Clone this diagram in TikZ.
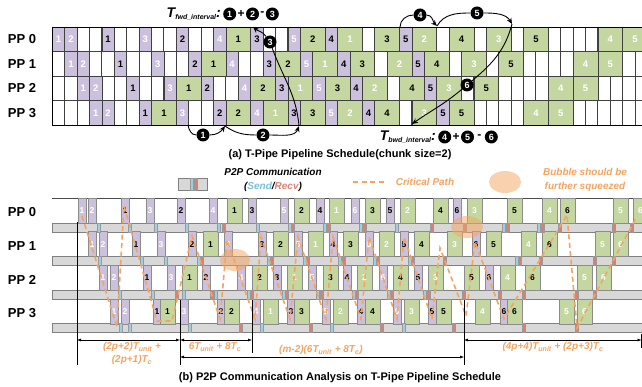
\documentclass[tikz,border=0pt]{standalone}
\usepackage{fontspec}
\setmainfont{Liberation Sans}
\usetikzlibrary{positioning,arrows.meta}

\definecolor{purp}{RGB}{204,193,221}
\definecolor{gree}{RGB}{196,215,161}
\definecolor{barg}{RGB}{216,216,216}
\definecolor{sendc}{RGB}{158,208,228}
\definecolor{recvc}{RGB}{214,128,118}
\definecolor{sendt}{RGB}{120,192,218}
\definecolor{recvt}{RGB}{222,128,118}
\definecolor{crit}{RGB}{244,164,96}

\tikzset{
  cellw/.style={draw=black!75, line width=0.6pt, fill=white},
  cellp/.style={draw=black!75, line width=0.6pt, fill=purp, inner sep=0pt, anchor=north west,
    minimum width=12.4pt, minimum height=24.5pt, font=\fontsize{9.5}{9.5}\selectfont\bfseries},
  cellg/.style={cellp, fill=gree, minimum width=24.8pt},
  blkp/.style={draw=black!45, line width=0.5pt, fill=purp, inner sep=0pt, anchor=north west,
    minimum width=7.5pt, minimum height=25pt, font=\fontsize{8.5}{8.5}\selectfont\bfseries},
  blkg/.style={blkp, fill=gree, minimum width=14.5pt},
  numL/.style={text=white},
  numD/.style={text=black},
  ppl/.style={font=\fontsize{13}{13}\selectfont\bfseries},
  circ/.style={circle, fill=black, text=white, inner sep=0pt, minimum size=13pt,
    font=\fontsize{9}{9}\selectfont\bfseries},
  opr/.style={inner sep=1pt, font=\fontsize{12}{12}\selectfont\bfseries},
  intl/.style={inner sep=1pt, font=\fontsize{14}{14}\selectfont\bfseries\itshape},
  arr/.style={-{Stealth[length=6pt,width=5pt]}, line width=0.9pt},
  capt/.style={font=\fontsize{11}{11}\selectfont\bfseries},
  legt/.style={align=center, font=\fontsize{10}{14}\selectfont\bfseries\itshape},
  critp/.style={crit, line width=1.6pt, dash pattern=on 5pt off 3.5pt},
  bubble/.style={fill=crit, opacity=0.5},
  bar/.style={fill=barg, draw=black!50, line width=0.5pt},
  sendm/.style={fill=sendc, draw=black!40, line width=0.3pt},
  recvm/.style={fill=recvc, draw=black!40, line width=0.3pt},
  dim/.style={{Latex[length=4pt,width=3pt]}-{Latex[length=4pt,width=3pt]}, line width=0.5pt},
  dimt/.style={text=crit, font=\fontsize{10}{12}\selectfont\bfseries\itshape},
}

% one row of (a): start unit / kind / number / shade
\newcommand\arow[2]{%
  \foreach \s/\ty/\nm/\sh in {#2}
    \node[cell\ty,num\sh] (a#1-\s) at ({52+\s*12.4},{27+#1*24.5}) {\nm};}
% one row of (b): x / kind / number / shade
\newcommand\brow[2]{%
  \foreach \xs/\ty/\nm/\sh in {#2}
    \node[blk\ty,num\sh] (b#1-\xs) at (\xs,{198+#1*33.5}) {\nm};}
% send/recv marks on the bar of a row
\newcommand\bmarks[3]{%
  \foreach \xs in {#3}
    \draw[#2] (\xs,{223+#1*33.5}) rectangle ++(3,9);}

\begin{document}
\begin{tikzpicture}[x=1pt,y=-1pt]
\useasboundingbox (0,0) rectangle (642,387);
\clip (0,0) rectangle (642,387);

%%% (a) schedule
\foreach \r in {0,...,3}
  \foreach \c in {0,...,47}
    \draw[cellw] ({52+\c*12.4},{27+\r*24.5}) rectangle ++(12.4,24.5);
\arow{0}{0/p/1/L,1/p/2/L,4/p/1/D,7/p/3/L,10/p/2/D,13/p/4/L,14/g/1/D,16/p/3/D,19/p/5/L,20/g/2/D,22/p/4/D,23/g/1/L,26/g/3/D,28/p/5/D,29/g/2/L,32/g/4/D,35/g/3/L,38/g/5/D,44/g/4/L,46/g/5/L}
\arow{1}{1/p/1/L,2/p/2/L,5/p/1/D,8/p/3/L,11/p/2/D,12/g/1/D,14/p/4/L,17/p/3/D,18/g/2/D,20/p/5/L,21/g/1/L,23/p/4/D,24/g/3/D,27/g/2/L,29/p/5/D,30/g/4/D,33/g/3/L,36/g/5/D,42/g/4/L,44/g/5/L}
\arow{2}{2/p/1/L,3/p/2/L,6/p/1/D,9/p/3/L,10/g/1/D,12/p/2/D,15/p/4/L,16/g/2/D,18/p/3/D,19/g/1/L,21/p/5/L,22/g/3/D,24/p/4/D,25/g/2/L,28/g/4/D,30/p/5/D,31/g/3/L,34/g/5/D,40/g/4/L,42/g/5/L}
\arow{3}{3/p/1/L,4/p/2/L,7/p/1/D,8/g/1/D,10/p/3/L,13/p/2/D,14/g/2/D,16/p/4/L,17/g/1/L,19/p/3/D,20/g/3/D,22/p/5/L,23/g/2/L,25/p/4/D,26/g/4/D,29/g/3/L,31/p/5/D,32/g/5/D,38/g/4/L,40/g/5/L}
\draw[line width=0.9pt] (52,27) rectangle (648,125);
\foreach \r in {0,...,3}
  \node[ppl] (pa\r) at (22,{39.25+\r*24.5}) {PP \r};

% forward interval
\coordinate (s1) at (188,125);
\coordinate (s2) at (225,126);
\coordinate (s3) at (299,126);
\coordinate (s4) at (253,27);
\node[circ] (n1) at (203,135) {1};
\node[circ] (n2) at (263,135) {2};
\node[circ] (n3) at (270,42) {3};
\draw[arr] (s1) to[out=-80,in=180] (n1) to[out=0,in=-125] (s2);
\draw[arr] (s2) to[out=-35,in=180] (n2) to[out=0,in=-110] (s3);
\draw[arr] (s3) to[out=95,in=-70] (n3) to[out=125,in=-40] (s4);
\node[intl, anchor=east] (tfwd) at (222,14) {T\raisebox{-2.5pt}{\fontsize{7}{7}\selectfont fwd\_interval}:};
\node[circ, right=1pt of tfwd] (tf1) {1};
\node[opr, right=0pt of tf1] (tfp) {+};
\node[circ, right=0pt of tfp] (tf2) {2};
\node[opr, right=0pt of tf2] (tfm) {-};
\node[circ, right=0pt of tfm] (tf3) {3};

% backward interval
\coordinate (r1) at (400,27);
\coordinate (r2) at (437,26);
\coordinate (r3) at (512,24);
\coordinate (r4) at (412,124);
\node[circ] (n4) at (420,15) {4};
\node[circ] (n5) at (477,13) {5};
\node[circ] (n6) at (467,85) {6};
\draw[arr] (r1) to[out=90,in=180] (n4) to[out=0,in=135] (r2);
\draw[arr] (r2) to[out=60,in=180] (n5) to[out=0,in=120] (r3);
\draw[arr] (r3) to[out=-105,in=40] (n6) to[out=-140,in=35] (r4);
\node[intl, anchor=east] (tbwd) at (437,137) {T\raisebox{-2.5pt}{\fontsize{7}{7}\selectfont bwd\_interval}:};
\node[circ, right=1pt of tbwd] (tb4) {4};
\node[opr, right=0pt of tb4] (tbp) {+};
\node[circ, right=0pt of tbp] (tb5) {5};
\node[opr, right=0pt of tb5, inner sep=3pt] (tbm) {-};
\node[circ, right=0pt of tbm] (tb6) {6};

\node[capt] (capa) at (340,155) {(a) T-Pipe Pipeline Schedule(chunk size=2)};

%%% legend
\draw[bar] (178,178) rectangle (207,190);
\draw[sendm] (190,178) rectangle ++(3,12);
\draw[recvm] (194,178) rectangle ++(3,12);
\node[legt] (lgc) at (273,180) {P2P Communication\\(\textcolor{sendt}{Send}/\textcolor{recvt}{Recv})};
\coordinate (lgl) at (353,182);
\coordinate (lgr) at (384,182);
\draw[critp] (lgl) -- (lgr);
\node[legt, text=crit] (lgcp) at (425,182) {Critical Path};
\fill[bubble] (505,182) ellipse (16 and 11);
\node[legt, text=crit] (lgbb) at (585,180) {Bubble should be\\further squeezed};

%%% (b) p2p analysis
\draw[black!70, line width=0.6pt] (52,198) -- (643,198);
\foreach \r in {0,...,3} {
  \draw[bar] (52,{223+\r*33.5}) rectangle (644,{232+\r*33.5});
  \node[ppl] (pb\r) at (22,{212.5+\r*33.5}) {PP \r};
}
\brow{0}{78/p/1/L,88/p/2/L,121/p/1/D,146/p/3/L,177/p/2/D,209/p/4/L,227/g/1/D,248/p/3/D,280/p/5/L,294/g/2/D,316/p/4/D,329/g/1/L,351/p/6/L,365/g/3/D,386/p/5/D,400/g/2/L,433/g/4/D,453/p/6/D,467/g/3/L,507/g/5/D,542/g/4/L,560/g/6/D,613/g/5/L,633/g/6/L}
\brow{1}{88/p/1/L,99/p/2/L,132/p/1/D,157/p/3/L,188/p/2/D,203/g/1/D,224/p/4/L,258/p/3/D,273/g/2/D,294/p/5/L,308/g/1/L,329/p/4/D,343/g/3/D,365/p/6/L,379/g/2/L,400/p/5/D,414/g/4/D,447/g/3/L,472/p/6/D,486/g/5/D,521/g/4/L,542/g/6/D,595/g/5/L,613/g/6/L}
\brow{2}{99/p/1/L,110/p/2/L,143/p/1/D,167/p/3/L,182/g/1/D,202/p/2/D,237/p/4/L,252/g/2/D,273/p/3/D,287/g/1/L,308/p/5/L,323/g/3/D,343/p/4/D,357/g/2/L,379/p/6/L,393/g/4/D,414/p/5/D,428/g/3/L,464/g/5/D,485/p/6/D,500/g/4/L,525/g/6/D,577/g/5/L,596/g/6/L}
\brow{3}{110/p/1/L,121/p/2/L,153/p/1/D,160/g/1/D,180/p/3/L,217/p/2/D,224/g/2/D,252/p/4/L,263/g/1/L,287/p/3/D,294/g/3/D,322/p/5/L,333/g/2/L,357/p/4/D,365/g/4/D,393/p/6/L,404/g/3/L,428/p/5/D,436/g/5/D,475/g/4/L,500/p/6/D,507/g/6/D,559/g/5/L,577/g/6/L}

\bmarks{0}{sendm}{97,128,154,185,217,256,288,323,359,395,502,537}
\bmarks{0}{recvm}{222,291,327,363,430,463,506,541,558,612,630}
\bmarks{1}{sendm}{98,140,164,197,267,303,338,373,408,515}
\bmarks{1}{recvm}{200,270,306,342,376,411,443,518,539,593,612}
\bmarks{2}{sendm}{118,151,182,214,247,282,316,352,387,423}
\bmarks{2}{recvm}{175,210,250,285,320,355,390,427,462,498,522,575,593}
\bmarks{3}{sendm}{119,128,188,260,330,402}
\bmarks{3}{recvm}{239,309,380,452,522,575}

% bubbles
\fill[bubble] (235,260) ellipse (15 and 11);
\fill[bubble] (467,227) ellipse (16 and 11);

% critical path
\draw[critp] (82,216) -- (117,327) -- (124,206) -- (157,321) -- (172,321) -- (192,236)
  -- (220,319) -- (227,240) -- (255,319) -- (261,237) -- (290,319) -- (298,237)
  -- (326,319) -- (333,237) -- (361,319) -- (369,237) -- (397,319) -- (404,237)
  -- (432,319) -- (440,248) -- (466,316) -- (475,242) -- (504,319) -- (567,215)
  -- (577,328) -- (636,218);

% time spans
\coordinate (d0t) at (77,222);  \coordinate (d0b) at (77,365);
\coordinate (d1t) at (180,300); \coordinate (d1b) at (180,365);
\coordinate (d2t) at (252,300); \coordinate (d2b) at (252,353);
\coordinate (d3t) at (464,300); \coordinate (d3b) at (464,365);
\coordinate (d4t) at (641.5,334); \coordinate (d4b) at (641.5,348);
\foreach \i in {0,...,4}
  \draw[line width=0.8pt] (d\i t) -- (d\i b);
\coordinate (hA0) at (77,340);  \coordinate (hA1) at (180,340);
\coordinate (hB1) at (252,340);
\coordinate (hC0) at (180,357); \coordinate (hC1) at (464,357);
\coordinate (hD0) at (464,340); \coordinate (hD1) at (641.5,340);
\draw[dim] (hA0) -- (hA1);
\draw[dim] (hA1) -- (hB1);
\draw[dim] (hC0) -- (hC1);
\draw[dim] (hD0) -- (hD1);
\node[dimt] (tA) at (132,347) {(2p+2)T\textsubscript{unit} +};
\node[dimt] (tA2) at (132,360) {(2p+1)T\textsubscript{c}};
\node[dimt] (tB) at (215,347) {6T\textsubscript{unit} + 8T\textsubscript{c}};
\node[dimt] (tC) at (321,350) {(m-2)(6T\textsubscript{unit} + 8T\textsubscript{c})};
\node[dimt] (tD) at (553,347) {(4p+4)T\textsubscript{unit} + (2p+3)T\textsubscript{c}};

\node[capt] (capb) at (340,378) {(b) P2P Communication Analysis on T-Pipe Pipeline Schedule};
\end{tikzpicture}
\end{document}
